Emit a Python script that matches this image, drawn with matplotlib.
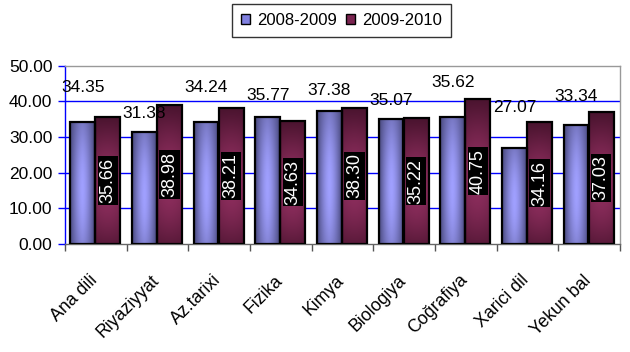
import numpy as np
import matplotlib
matplotlib.use("Agg")
import matplotlib.pyplot as plt
from matplotlib.patches import Patch
from matplotlib import transforms, font_manager

plt.rcParams['font.family'] = ['Liberation Sans', 'DejaVu Sans']

categories = ["Ana dili", "Riyaziyyat", "Az.tarixi", "Fizika", "Kimya",
              "Biologiya", "Coğrafiya", "Xarici dil", "Yekun bal"]
series_names = ["2008-2009", "2009-2010"]
values_0809 = [34.35, 31.38, 34.24, 35.77, 37.38, 35.07, 35.62, 27.07, 33.34]
values_0910 = [35.66, 38.98, 38.21, 34.63, 38.30, 35.22, 40.75, 34.16, 37.03]
y_ticks = [0, 10, 20, 30, 40, 50]
# heights (data units) where the 2008-2009 labels are drawn in the reference
label_heights_0809 = [43.8, 36.5, 43.8, 41.6, 43.0, 40.4, 45.2, 38.2, 41.3]

names = {f.name for f in font_manager.fontManager.ttflist}
if 'Liberation Sans Narrow' in names:
    legend_font = dict(family=['Liberation Sans Narrow', 'DejaVu Sans'], size=14)
else:
    legend_font = dict(family=['Liberation Sans', 'DejaVu Sans'], size=12)

fig = plt.figure(figsize=(6.3, 3.52), dpi=100)
ax = fig.add_axes([0.103, 0.307, 0.881, 0.506])

n = len(categories)
x = np.arange(n)
w = 0.405
off_b, off_r = -0.212, 0.197


def blue_grad(ny=80, nx=60):
    xs = np.linspace(0, 1, nx)
    ys = np.linspace(0, 1, ny)
    hx = 1 - np.abs(2 * xs - 1) ** 1.6
    vy = 0.55 + 0.45 * np.sin(np.pi * np.clip(ys * 0.9 + 0.1, 0, 1))
    t = np.outer(vy, hx)
    dark = np.array([0x48, 0x48, 0x7c]) / 255
    light = np.array([0xa0, 0xa0, 0xff]) / 255
    return dark + (light - dark) * t[..., None]


def red_grad(ny=80, nx=60):
    xs = np.linspace(0, 1, nx)
    ys = np.linspace(0, 1, ny)
    hx = 0.8 + 0.2 * (1 - np.abs(2 * xs - 1) ** 2)
    vy = np.sin(np.pi * np.clip(ys * 0.85 + 0.12, 0, 1)) ** 1.2
    t = np.outer(vy, hx)
    dark = np.array([0x46, 0x12, 0x2c]) / 255
    light = np.array([0x8e, 0x2e, 0x5e]) / 255
    return dark + (light - dark) * t[..., None]


gb = blue_grad()
gr = red_grad()

bars_b = ax.bar(x + off_b, values_0809, w, facecolor='none', edgecolor='black',
                linewidth=1.6, zorder=4)
bars_r = ax.bar(x + off_r, values_0910, w, facecolor='none', edgecolor='black',
                linewidth=1.6, zorder=4)

for bars, g in ((bars_b, gb), (bars_r, gr)):
    for b in bars:
        x0, y0 = b.get_x(), b.get_y()
        im = ax.imshow(g, extent=[x0, x0 + b.get_width(), y0, y0 + b.get_height()],
                       origin='lower', aspect='auto', zorder=3, interpolation='bilinear')
        im.set_clip_path(b)

# labels
for i in range(n):
    ax.text(x[i] + off_b, label_heights_0809[i], f"{values_0809[i]:.2f}",
            ha='center', va='center', fontsize=12.5, color='black', zorder=6)
    ax.text(x[i] + off_r, values_0910[i] / 2, f"{values_0910[i]:.2f}",
            rotation=90, ha='center', va='center', fontsize=13, color='white',
            zorder=6, bbox=dict(facecolor='black', edgecolor='none', pad=1.2))

ax.set_xlim(-0.5, n - 0.5)
ax.set_ylim(0, 50)
ax.set_yticks(y_ticks)
ax.set_yticklabels([f"{v:.2f}" for v in y_ticks], fontsize=12.5)
ax.tick_params(axis='y', direction='out', length=5, color='#0000ff', width=1, pad=4)

for yv in y_ticks[1:-1]:
    ax.axhline(yv, color='#0000ff', linewidth=1.0, zorder=1)

ax.set_xticks(x)
ax.set_xticklabels(categories, rotation=45, ha='right', va='top',
                   rotation_mode='anchor', fontsize=12.8)
ax.tick_params(axis='x', which='major', length=0, pad=20)
shift = transforms.ScaledTranslation(-0.07, 0.0, fig.dpi_scale_trans)
for lbl in ax.get_xticklabels():
    lbl.set_transform(lbl.get_transform() + shift)
ax.set_xticks(np.arange(-0.5, n, 1.0), minor=True)
ax.tick_params(axis='x', which='minor', length=5, color='#555555', width=1)

ax.spines['left'].set_color('#0000ff')
ax.spines['top'].set_color('#999999')
ax.spines['right'].set_color('#999999')
ax.spines['bottom'].set_color('#666666')
for s in ax.spines.values():
    s.set_linewidth(1.0)

handles = [Patch(facecolor='#8080e0', edgecolor='black', linewidth=1.0),
           Patch(facecolor='#7a2450', edgecolor='black', linewidth=1.0)]
fig.legend(handles, series_names, loc='upper center', bbox_to_anchor=(0.542, 1.012),
           ncol=2, prop=legend_font, frameon=True, fancybox=False, edgecolor='black',
           handlelength=0.55, handleheight=0.55, handletextpad=0.45, columnspacing=0.5,
           borderpad=0.55)

fig.savefig("out.png", dpi=100)
